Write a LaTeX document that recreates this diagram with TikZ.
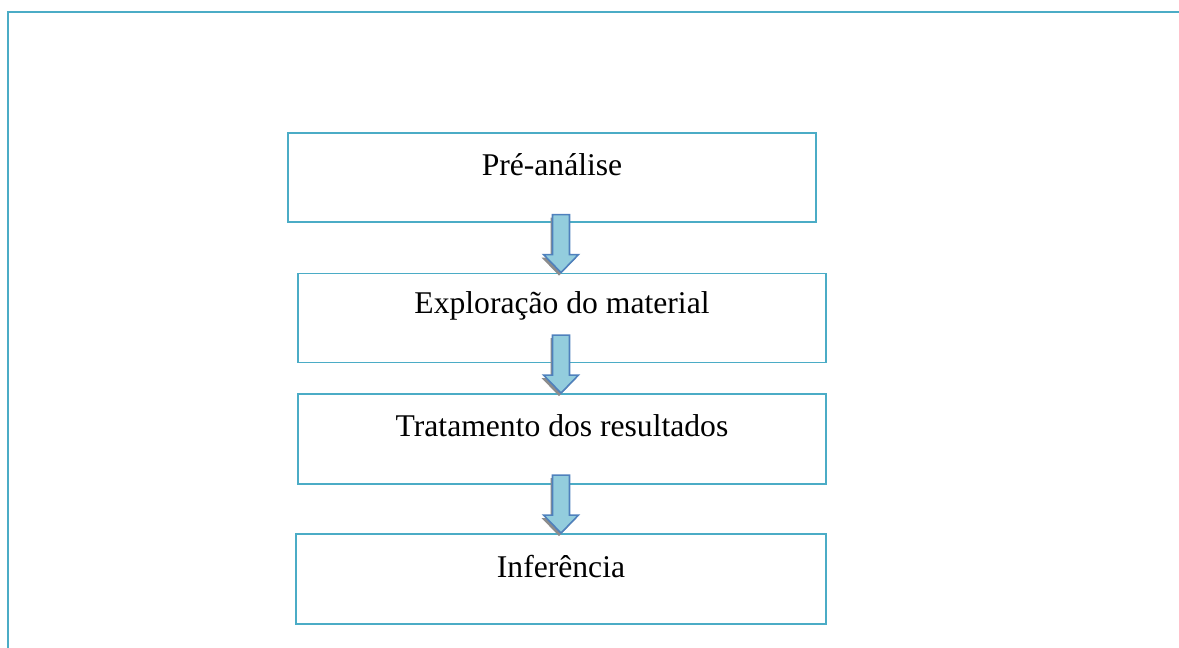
\documentclass[tikz,border=0pt]{standalone}
\usepackage{fontspec}
\setmainfont{Liberation Serif}
\usetikzlibrary{positioning,calc,shadows}
\definecolor{boxcyan}{HTML}{4BACC6}
\definecolor{arrowfill}{HTML}{93CDDD}
\definecolor{arrowline}{HTML}{4F81BD}
\tikzset{
  stepbox/.style={draw=boxcyan, line width=1.1pt, minimum width=10.56cm, minimum height=1.78cm, inner sep=0pt},
  steptext/.style={font=\fontsize{18}{22}\selectfont, inner sep=0pt},
  blockarrow/.style={draw=arrowline, fill=arrowfill, line width=0.9pt, line join=miter,
    drop shadow={shadow xshift=-0.04cm, shadow yshift=-0.06cm, fill=black!45, opacity=1}}
}
\begin{document}
\begin{tikzpicture}[x=0.02cm,y=-0.02cm]
  \useasboundingbox (0,0) rectangle (1179,648);
  % moldura
  \draw[boxcyan, line width=1.2pt] (8,660) -- (8,12) -- (1190,12);
  % etapas
  \node[stepbox] (pre) at (552,177.5) {};
  \node[stepbox] (expl) at (562,318) {};
  \node[stepbox, minimum height=1.8cm] (trat) at (562,439) {};
  \node[stepbox, minimum width=10.6cm, minimum height=1.8cm] (inf) at (561,579) {};
  \node[steptext] (pretxt) at ($(pre.north)+(0,33)$) {Pré-análise};
  \node[steptext] (expltxt) at ($(expl.north)+(0,33)$) {Exploração do material};
  \node[steptext] (trattxt) at ($(trat.north)+(0,33)$) {Tratamento dos resultados};
  \node[steptext] (inftxt) at ($(inf.north)+(0,33)$) {Inferência};
  % setas
  \coordinate (axis) at (561,0);
  \foreach \a/\b in {pre/expl,expl/trat,trat/inf}
    \draw[blockarrow] let \p1=($(\b.north -| axis)+(0,-58)$), \p2=(\b.north -| axis) in
      (\x1-0.17cm,\y1) -- (\x1+0.17cm,\y1) -- (\x1+0.17cm,\y2+0.36cm) -- (\x1+0.35cm,\y2+0.36cm)
      -- (\x2,\y2) -- (\x1-0.35cm,\y2+0.36cm) -- (\x1-0.17cm,\y2+0.36cm) -- cycle;
\end{tikzpicture}
\end{document}
